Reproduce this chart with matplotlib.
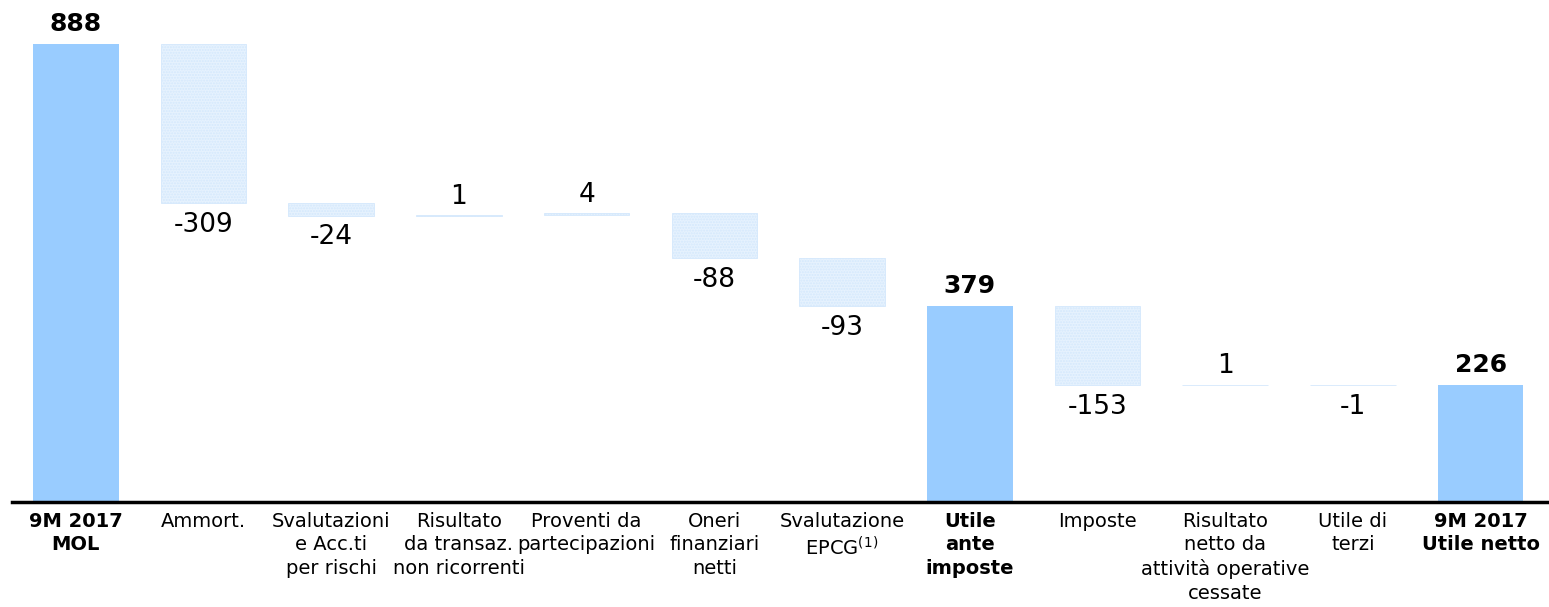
import matplotlib.pyplot as plt
import numpy as np

labels = ["9M 2017\nMOL", "Ammort.", "Svalutazioni\ne Acc.ti\nper rischi",
          "Risultato\nda transaz.\nnon ricorrenti", "Proventi da\npartecipazioni",
          "Oneri\nfinanziari\nnetti", "Svalutazione\nEPCG$^{(1)}$", "Utile\nante\nimposte",
          "Imposte", "Risultato\nnetto da\nattività operative\ncessate", "Utile di\nterzi",
          "9M 2017\nUtile netto"]
values = [888, -309, -24, 1, 4, -88, -93, 379, -153, 1, -1, 226]
is_total = [True, False, False, False, False, False, False, True, False, False, False, True]

total_color = "#99CCFF"
delta_color = "#E6F2FE"

fig = plt.figure(figsize=(15.49, 6.07), dpi=100)
ax = fig.add_axes([12/1549, 105/607, 1535/1549, 0.816])

x = np.arange(len(values))
running = 0
for i, (v, tot) in enumerate(zip(values, is_total)):
    if tot:
        ax.bar(i, v, width=0.67, color=total_color, linewidth=0)
        running = v
        ax.annotate(str(v), (i, v), xytext=(0, 6), textcoords="offset points",
                    ha="center", va="bottom", fontsize=18, fontweight="bold")
    else:
        start = running
        running = running + v
        lo, hi = min(start, running), max(start, running)
        ax.bar(i, hi - lo, bottom=lo, width=0.67, color=delta_color,
               edgecolor="#D4E8FC", hatch="......", linewidth=0.6)
        if v > 0:
            ax.annotate(str(v), (i, hi), xytext=(0, 4), textcoords="offset points",
                        ha="center", va="bottom", fontsize=19)
        else:
            ax.annotate(str(v), (i, lo), xytext=(0, -6), textcoords="offset points",
                        ha="center", va="top", fontsize=19)

ax.set_xlim(-0.5, len(values) - 0.48)
ax.set_ylim(0, 960)
ax.set_yticks([])
ax.set_xticks(x)
ax.set_xticklabels(labels, fontsize=14, linespacing=1.3)
for lab, tot in zip(ax.get_xticklabels(), is_total):
    if tot:
        lab.set_fontweight("bold")
ax.tick_params(axis="x", length=0, pad=7)
for s in ["top", "right", "left"]:
    ax.spines[s].set_visible(False)
ax.spines["bottom"].set_linewidth(2.5)

plt.savefig("out.png", dpi=100)
